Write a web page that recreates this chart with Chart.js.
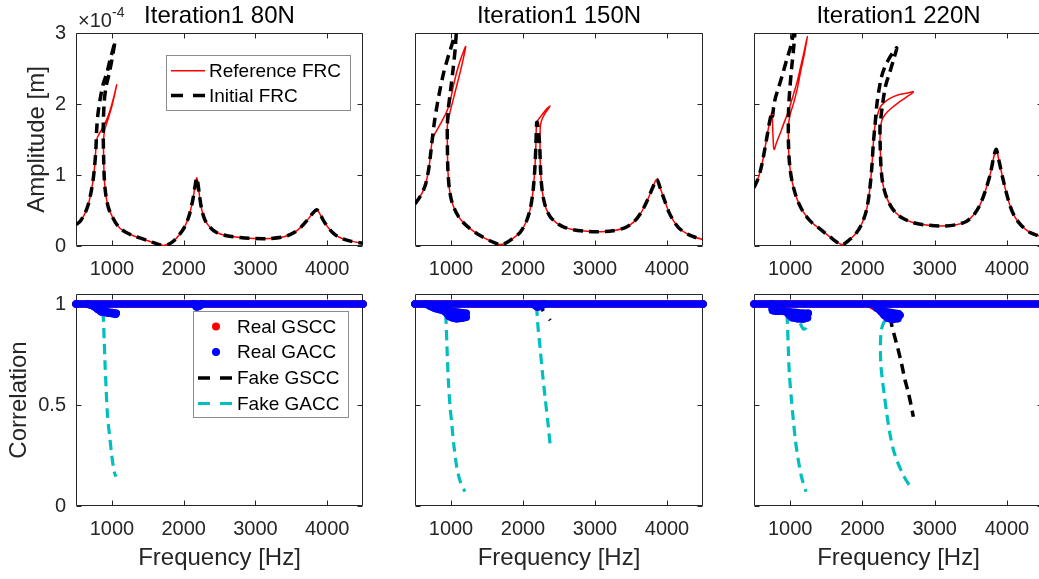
<!DOCTYPE html>
<html>
<head>
<meta charset="utf-8">
<script src="https://cdn.jsdelivr.net/npm/chart.js@4.4.1/dist/chart.umd.min.js"></script>
<style>
html,body{margin:0;padding:0;background:#fff;overflow:hidden;width:1039px;height:579px;position:relative;}
.panel{position:absolute;}
canvas{display:block;}
</style>
</head>
<body>
<script>
// ---------------- axes / labels ----------------
const X_MIN = 500, X_MAX = 4500;
const xTicks = [1000, 2000, 3000, 4000];
const xTickLabels = ['1000', '2000', '3000', '4000'];
const ampTicks = [0, 1, 2, 3];            // amplitude in units of 1e-4 m
const ampTickLabels = ['0', '1', '2', '3'];
const AMP_MAX = 3;
const corrTicks = [0, 0.5, 1];
const corrTickLabels = ['0', '0.5', '1'];
const CORR_MAX = 1.05;
const titles = ['Iteration1 80N', 'Iteration1 150N', 'Iteration1 220N'];

// ---------------- FRC data (x: Hz, y: 1e-4 m) ----------------
// 80 N
const rise80 = [[500,0.30],[560,0.35],[620,0.45],[670,0.58],[710,0.76],[741,0.95],[762,1.15],[778,1.38]];
const refFold80 = [[795,1.52],[835,1.60],[880,1.68],[928,1.78],[965,1.88],[998,1.99],[1035,2.13],[1067,2.27],[1040,2.14],[995,1.95],[950,1.80],[910,1.67],[890,1.57],[884,1.45]];
const iniFold80 = [[788,1.64],[805,1.85],[835,2.06],[881,2.29],[928,2.43],[974,2.62],[1010,2.75],[1043,2.88],[1000,2.62],[960,2.42],[920,2.25],[895,2.05],[882,1.78],[880,1.55]];
const tail80 = [[886,1.20],[893,0.98],[906,0.80],[925,0.66],[955,0.53],[998,0.43],[1050,0.33],[1113,0.25],[1200,0.19],[1300,0.145],[1400,0.11],[1500,0.075],[1600,0.04],[1695,0.01],[1780,0.02],[1860,0.07],[1949,0.17],[2020,0.28],[2080,0.44],[2130,0.66],[2162,0.86],[2182,0.96],[2200,0.88],[2222,0.70],[2255,0.50],[2300,0.36],[2370,0.26],[2460,0.19],[2600,0.145],[2786,0.12],[3000,0.105],[3200,0.105],[3400,0.13],[3540,0.19],[3640,0.27],[3720,0.36],[3790,0.45],[3855,0.51],[3900,0.45],[3960,0.34],[4030,0.24],[4110,0.16],[4220,0.10],[4340,0.065],[4500,0.04]];

// 150 N
const rise150 = [[500,0.59],[560,0.68],[610,0.77],[650,0.88],[690,1.08],[715,1.28],[735,1.46]];
const refFold150 = [[760,1.55],[820,1.66],[880,1.77],[940,1.89],[990,2.05],[1032,2.25],[1080,2.45],[1130,2.62],[1170,2.73],[1204,2.81],[1180,2.68],[1140,2.50],[1090,2.30],[1040,2.10],[990,1.90],[960,1.76],[949,1.69]];
const iniFold150 = [[770,1.75],[810,2.00],[847,2.20],[900,2.45],[950,2.63],[990,2.76],[1030,2.90],[1075,3.10],[1060,2.80],[1030,2.50],[995,2.20],[965,1.95],[949,1.69]];
const mid150 = [[950,1.40],[954,1.15],[962,0.98],[978,0.80],[1005,0.65],[1045,0.53],[1100,0.42],[1170,0.33],[1264,0.245],[1400,0.15],[1550,0.07],[1681,0.02],[1760,0.04],[1850,0.10],[1958,0.19],[2040,0.33],[2100,0.52],[2140,0.78],[2165,1.10],[2180,1.45],[2190,1.74]];
const refPeak150 = [[2220,1.79],[2259,1.84],[2310,1.91],[2375,1.97],[2320,1.89],[2270,1.80],[2242,1.70],[2237,1.50]];
const iniPeak150 = [[2200,1.74],[2215,1.60],[2230,1.45]];
const tail150 = [[2236,1.31],[2245,1.05],[2260,0.84],[2282,0.68],[2320,0.53],[2380,0.41],[2460,0.33],[2560,0.27],[2700,0.23],[2850,0.21],[3024,0.20],[3250,0.215],[3420,0.26],[3540,0.34],[3640,0.47],[3730,0.65],[3800,0.82],[3857,0.94],[3905,0.82],[3960,0.66],[4030,0.47],[4100,0.34],[4180,0.24],[4300,0.16],[4400,0.12],[4504,0.09]];

// 220 N
const rise220 = [[500,0.82],[545,0.92],[583,1.04],[620,1.20],[652,1.38],[680,1.54],[710,1.72],[735,1.84],[748,1.88]];
const refFold220 = [[760,1.62],[772,1.38],[782,1.36],[810,1.45],[860,1.58],[910,1.72],[952,1.83],[1000,1.98],[1050,2.15],[1091,2.29],[1140,2.50],[1190,2.72],[1238,2.95],[1200,2.72],[1150,2.48],[1100,2.22],[1050,2.02],[1000,1.85],[978,1.72],[975,1.69]];
const iniFold220 = [[758,1.83],[765,1.90],[775,1.98],[800,2.10],[837,2.22],[890,2.40],[952,2.62],[1010,2.82],[1070,3.10],[1050,2.80],[1020,2.50],[995,2.20],[980,1.95],[975,1.69]];
const mid220 = [[977,1.45],[985,1.25],[1000,1.08],[1025,0.92],[1067,0.75],[1120,0.60],[1182,0.48],[1280,0.35],[1413,0.24],[1550,0.13],[1714,0.02],[1800,0.07],[1921,0.19],[2000,0.33],[2060,0.52],[2100,0.78],[2130,1.10],[2152,1.45],[2175,1.70]];
const refPeak220 = [[2210,1.85],[2244,1.95],[2300,2.02],[2382,2.08],[2500,2.13],[2600,2.15],[2705,2.17],[2600,2.09],[2500,2.02],[2400,1.94],[2320,1.86],[2270,1.77],[2250,1.65],[2244,1.50]];
const iniPeak220 = [[2198,1.97],[2230,2.20],[2267,2.39],[2310,2.52],[2359,2.62],[2420,2.72],[2475,2.79],[2430,2.62],[2380,2.45],[2320,2.25],[2280,2.00],[2255,1.80],[2244,1.69]];
const tail220 = [[2247,1.40],[2257,1.13],[2275,0.93],[2305,0.78],[2345,0.66],[2400,0.55],[2470,0.46],[2560,0.39],[2700,0.33],[2850,0.30],[3074,0.28],[3300,0.30],[3444,0.35],[3550,0.45],[3628,0.58],[3700,0.77],[3767,1.00],[3849,1.36],[3895,1.18],[3940,0.97],[3990,0.76],[4043,0.57],[4110,0.41],[4200,0.29],[4320,0.19],[4420,0.15],[4500,0.12]];

// ---------------- correlation data (segments) ----------------
const gscc80 = [[[500,1],[4500,1]], [[650,1.0],[720,0.993],[790,0.985],[850,0.99],[890,1.0]], [[2150,1.0],[2200,0.99],[2250,1.0]]];
const gacc80 = [[[500,1],[4500,1]], [[670,1.0],[740,0.99],[800,0.975],[850,0.962],[900,0.958],[950,0.955],[1000,0.953],[1050,0.95]], [[880,0.972],[940,0.962],[1000,0.958],[1060,0.955]], [[2140,1.0],[2180,0.986],[2220,0.99],[2260,1.0]]];
const fgscc80 = [[[500,1],[4500,1]]];
const fgacc80 = [[[500,1],[4500,1]], [[870,0.96],[881,0.93],[893,0.82],[904,0.71],[920,0.58],[937,0.46],[955,0.39],[974,0.33],[995,0.26],[1020,0.195],[1040,0.16],[1058,0.145]]];

const gscc150 = [[[500,1],[4500,1]], [[700,1.0],[780,0.99],[850,0.982],[900,0.985],[950,1.0]], [[2150,1.0],[2210,0.99],[2270,1.0]]];
const gacc150 = [[[500,1],[4500,1]], [[650,1.0],[720,0.988],[780,0.978],[850,0.972],[900,0.966],[940,0.955],[970,0.94],[1020,0.932],[1080,0.928],[1150,0.93],[1210,0.935]], [[900,0.972],[1000,0.965],[1100,0.96],[1210,0.955]], [[2150,0.998],[2200,0.985],[2250,0.99],[2300,1.0]]];
const fgscc150 = [[[500,1],[4500,1]], [[2255,0.982],[2282,0.965]], [[2368,0.925],[2378,0.92]]];
const fgacc150 = [[[500,1],[4500,1]], [[925,0.95],[931,0.92],[945,0.78],[963,0.624],[985,0.5],[1010,0.41],[1040,0.3],[1079,0.195],[1130,0.12],[1194,0.071]], [[1120,0.945],[1150,0.93],[1175,0.918]], [[2185,0.99],[2190,0.979],[2210,0.88],[2236,0.789],[2270,0.66],[2306,0.541],[2352,0.393],[2375,0.31]]];

const gscc220 = [[[500,1],[4500,1]], [[730,1.0],[790,0.985],[860,0.98],[900,0.99],[930,1.0]], [[2100,1.0],[2180,0.985],[2260,0.99],[2300,1.0]]];
const gacc220 = [[[500,1],[4500,1]], [[745,1.0],[755,0.968],[820,0.965],[900,0.965],[950,0.96],[990,0.945],[1030,0.932],[1100,0.928],[1180,0.926],[1240,0.932]], [[980,0.962],[1080,0.958],[1180,0.955],[1250,0.955]], [[2150,1.0],[2200,0.98],[2260,0.962],[2300,0.945],[2350,0.93],[2420,0.924],[2490,0.928]], [[2300,0.965],[2400,0.958],[2500,0.952],[2520,0.945]]];
const fgscc220 = [[[500,1],[4500,1]], [[2385,0.935],[2406,0.896],[2450,0.835],[2497,0.772],[2545,0.7],[2590,0.624],[2630,0.57],[2659,0.525],[2690,0.47],[2705,0.442]]];
const fgacc220 = [[[500,1],[4500,1]], [[955,0.95],[961,0.92],[975,0.78],[989,0.657],[1015,0.54],[1044,0.426],[1075,0.32],[1113,0.228],[1160,0.14],[1220,0.071]], [[1140,0.905],[1180,0.877],[1215,0.88],[1232,0.9]], [[2320,0.92],[2290,0.905],[2262,0.87],[2250,0.8],[2255,0.706],[2275,0.63],[2300,0.56],[2337,0.459],[2380,0.36],[2428,0.28],[2490,0.215],[2544,0.17],[2610,0.125],[2683,0.088]]];

// ---------------- assemble ----------------
const refFRC = [
  [[...rise80, ...refFold80, ...tail80]],
  [[...rise150, ...refFold150, ...mid150, ...refPeak150, ...tail150]],
  [[...rise220, ...refFold220, ...mid220, ...refPeak220, ...tail220]]
];
const iniFRC = [
  [[...rise80, ...iniFold80, ...tail80]],
  [[...rise150, ...iniFold150, ...mid150, ...iniPeak150, ...tail150]],
  [[...rise220, ...iniFold220, ...mid220, ...iniPeak220, ...tail220]]
];
const realGSCC = [gscc80, gscc150, gscc220];
const realGACC = [gacc80, gacc150, gacc220];
const fakeGSCC = [fgscc80, fgscc150, fgscc220];
const fakeGACC = [fgacc80, fgacc150, fgacc220];

const AXIS = '#262626';
const FONT = "'Liberation Sans', Arial, Helvetica, sans-serif";
const RED = '#FF0000', BLUE = '#0000FF', BLACK = '#000000', CYAN = '#00BFBF';

function toXY(pts) { return pts.map(p => ({x: p[0], y: p[1]})); }
function lineSets(segments, style) {
  return segments.map(s => Object.assign({data: toXY(s), pointRadius: 0, showLine: true, tension: 0.3, fill: false, clip: 0}, style));
}
function dotSets(segments, color) {
  return segments.map(s => ({data: toXY(s), showLine: true, tension: 0.3, fill: false, clip: false,
    borderColor: color, backgroundColor: color, borderWidth: 7.5, borderCapStyle: 'round', borderJoinStyle: 'round',
    pointRadius: 3.75, pointBorderWidth: 0, pointBackgroundColor: color}));
}

const boxPlugin = {
  id: 'mBox',
  beforeDatasetsDraw(chart) {
    const {ctx, chartArea: a, scales: {x, y}} = chart;
    const L = Math.round(a.left) + 0.5, R = Math.round(a.right) - 0.5, T = Math.round(a.top) + 0.5, B = Math.round(a.bottom) - 0.5;
    const TL = 5;
    ctx.save();
    ctx.strokeStyle = AXIS; ctx.lineWidth = 1; ctx.setLineDash([]);
    ctx.beginPath();
    ctx.moveTo(L, T); ctx.lineTo(R, T); ctx.lineTo(R, B); ctx.lineTo(L, B); ctx.closePath();
    x.ticks.forEach(t => {
      const px = Math.round(x.getPixelForValue(t.value)) + 0.5;
      ctx.moveTo(px, B); ctx.lineTo(px, B - TL);
      ctx.moveTo(px, T); ctx.lineTo(px, T + TL);
    });
    y.ticks.forEach(t => {
      const py = Math.round(y.getPixelForValue(t.value)) + 0.5;
      ctx.moveTo(L, py); ctx.lineTo(L + TL, py);
      ctx.moveTo(R, py); ctx.lineTo(R - TL, py);
    });
    ctx.stroke();
    ctx.restore();
  }
};

const legendPlugin = {
  id: 'mLegend',
  afterDraw(chart, args, o) {
    if (!o || !o.items) return;
    const a = chart.chartArea, ctx = chart.ctx;
    const bx = Math.round(a.left + o.box[0]) + 0.5, by = Math.round(a.top + o.box[1]) + 0.5;
    ctx.save();
    ctx.fillStyle = '#fff'; ctx.fillRect(bx, by, o.box[2], o.box[3]);
    ctx.strokeStyle = '#8c8c8c'; ctx.lineWidth = 1; ctx.setLineDash([]);
    ctx.strokeRect(bx, by, o.box[2], o.box[3]);
    ctx.font = o.fontSize + 'px ' + FONT; ctx.textBaseline = 'middle'; ctx.textAlign = 'left';
    o.items.forEach((it, i) => {
      const yy = a.top + o.rows[i];
      if (it.kind === 'line') {
        ctx.strokeStyle = it.color; ctx.lineWidth = it.width; ctx.setLineDash(it.dash || []);
        ctx.beginPath(); ctx.moveTo(a.left + o.sample[0], yy); ctx.lineTo(a.left + o.sample[1], yy); ctx.stroke();
        ctx.setLineDash([]);
      } else {
        ctx.fillStyle = it.color; ctx.beginPath(); ctx.arc(a.left + o.dotX, yy, 4, 0, 2 * Math.PI); ctx.fill();
      }
      ctx.fillStyle = '#000';
      ctx.fillText(it.label, a.left + o.textX, yy + 1);
    });
    ctx.restore();
  }
};

const expPlugin = {
  id: 'mExp',
  afterDraw(chart, args, o) {
    if (!o || !o.base) return;
    const a = chart.chartArea, ctx = chart.ctx;
    ctx.save();
    ctx.fillStyle = AXIS; ctx.textBaseline = 'alphabetic'; ctx.textAlign = 'left';
    ctx.font = '20px ' + FONT;
    ctx.fillText(o.base, a.left + 2, a.top - 6);
    ctx.font = '14px ' + FONT;
    ctx.fillText(o.sup, a.left + 36, a.top - 16);
    ctx.restore();
  }
};

const cols = [
  {left: 0, w: 380, yW: 76, padR: 17},
  {left: 380, w: 340, yW: 35, padR: 17},
  {left: 720, w: 340, yW: 34, padR: 17}
];
const rows = [
  {top: 0, h: 285, padT: 0, xH: 39},
  {top: 285, h: 294, padT: 9, xH: 73}
];

function makeChart(r, c) {
  const col = cols[c], row = rows[r];
  const div = document.createElement('div');
  div.className = 'panel';
  div.style.left = col.left + 'px'; div.style.top = row.top + 'px';
  div.style.width = col.w + 'px'; div.style.height = row.h + 'px';
  const cv = document.createElement('canvas');
  cv.width = col.w; cv.height = row.h;
  cv.style.width = col.w + 'px'; cv.style.height = row.h + 'px';
  div.appendChild(cv); document.body.appendChild(div);

  let datasets = [];
  if (r === 0) {
    datasets = datasets.concat(lineSets(refFRC[c], {borderColor: RED, borderWidth: 1.5}));
    datasets = datasets.concat(lineSets(iniFRC[c], {borderColor: BLACK, borderWidth: 3.5, borderDash: [10, 6]}));
  } else {
    datasets = datasets.concat(lineSets(fakeGSCC[c], {borderColor: BLACK, borderWidth: 3.5, borderDash: [10, 6]}));
    datasets = datasets.concat(lineSets(fakeGACC[c], {borderColor: CYAN, borderWidth: 3.2, borderDash: [10, 6]}));
    datasets = datasets.concat(dotSets(realGSCC[c], RED));
    datasets = datasets.concat(dotSets(realGACC[c], BLUE));
  }
  const N = datasets.length;
  datasets.forEach((d, i) => { d.order = N - i; });

  const showY = c === 0;
  const yTicks = r === 0 ? ampTicks : corrTicks;
  const yLabels = r === 0 ? ampTickLabels : corrTickLabels;

  const plugins = {
    legend: {display: false},
    tooltip: {enabled: false},
    title: {display: r === 0, text: titles[c], fullSize: false, color: '#000',
      font: {family: FONT, size: 24, weight: 'normal'}, padding: {top: 2, bottom: 2.2}},
    mLegend: {},
    mExp: {}
  };
  if (r === 0 && c === 0) {
    plugins.mLegend = {box: [90, 22, 184, 55], rows: [37.7, 62.5], sample: [95, 129], textX: 133, fontSize: 19,
      items: [
        {kind: 'line', label: 'Reference FRC', color: RED, width: 1.5},
        {kind: 'line', label: 'Initial FRC', color: BLACK, width: 3.5, dash: [12, 10]}
      ]};
    plugins.mExp = {base: '\u00D710', sup: '-4'};
  }
  if (r === 1 && c === 0) {
    plugins.mLegend = {box: [117, 17, 155, 106], rows: [32.5, 58, 84, 109.5], sample: [122, 156], dotX: 140, textX: 161, fontSize: 19,
      items: [
        {kind: 'dot', label: 'Real GSCC', color: RED},
        {kind: 'dot', label: 'Real GACC', color: BLUE},
        {kind: 'line', label: 'Fake GSCC', color: BLACK, width: 3.5, dash: [12, 10]},
        {kind: 'line', label: 'Fake GACC', color: CYAN, width: 3, dash: [12, 10]}
      ]};
  }

  new Chart(cv, {
    type: 'scatter',
    data: {datasets},
    plugins: [boxPlugin, legendPlugin, expPlugin],
    options: {
      responsive: false,
      animation: false,
      events: [],
      layout: {padding: {left: 0, right: col.padR, top: row.padT, bottom: 0}},
      plugins,
      scales: {
        x: {
          type: 'linear', position: 'bottom', min: X_MIN, max: X_MAX,
          afterBuildTicks: s => { s.ticks = xTicks.map(v => ({value: v})); },
          afterFit: s => { s.height = row.xH; s.paddingLeft = 0; s.paddingRight = 0; },
          grid: {display: false, drawTicks: false},
          border: {display: false},
          ticks: {color: AXIS, font: {family: FONT, size: 20}, padding: 11, maxRotation: 0, autoSkip: false,
            callback: (v, i) => xTickLabels[i]},
          title: {display: r === 1, text: 'Frequency [Hz]', color: AXIS, font: {family: FONT, size: 24},
            padding: {top: 0, bottom: 6}}
        },
        y: {
          type: 'linear', position: 'left', min: 0, max: r === 0 ? AMP_MAX : CORR_MAX,
          afterBuildTicks: s => { s.ticks = yTicks.map(v => ({value: v})); },
          afterFit: s => { s.width = col.yW; s.paddingTop = 0; s.paddingBottom = 0; },
          grid: {display: false, drawTicks: false},
          border: {display: false},
          ticks: {color: AXIS, font: {family: FONT, size: 20}, padding: 10, autoSkip: false,
            callback: (v, i) => showY ? yLabels[i] : ''},
          title: {display: showY, text: r === 0 ? 'Amplitude [m]' : 'Correlation', color: AXIS,
            font: {family: FONT, size: 24}, padding: {top: r === 0 ? 23 : 5, bottom: 0}}
        }
      }
    }
  });
}

for (let r = 0; r < 2; r++) for (let c = 0; c < 3; c++) makeChart(r, c);
</script>
</body>
</html>
